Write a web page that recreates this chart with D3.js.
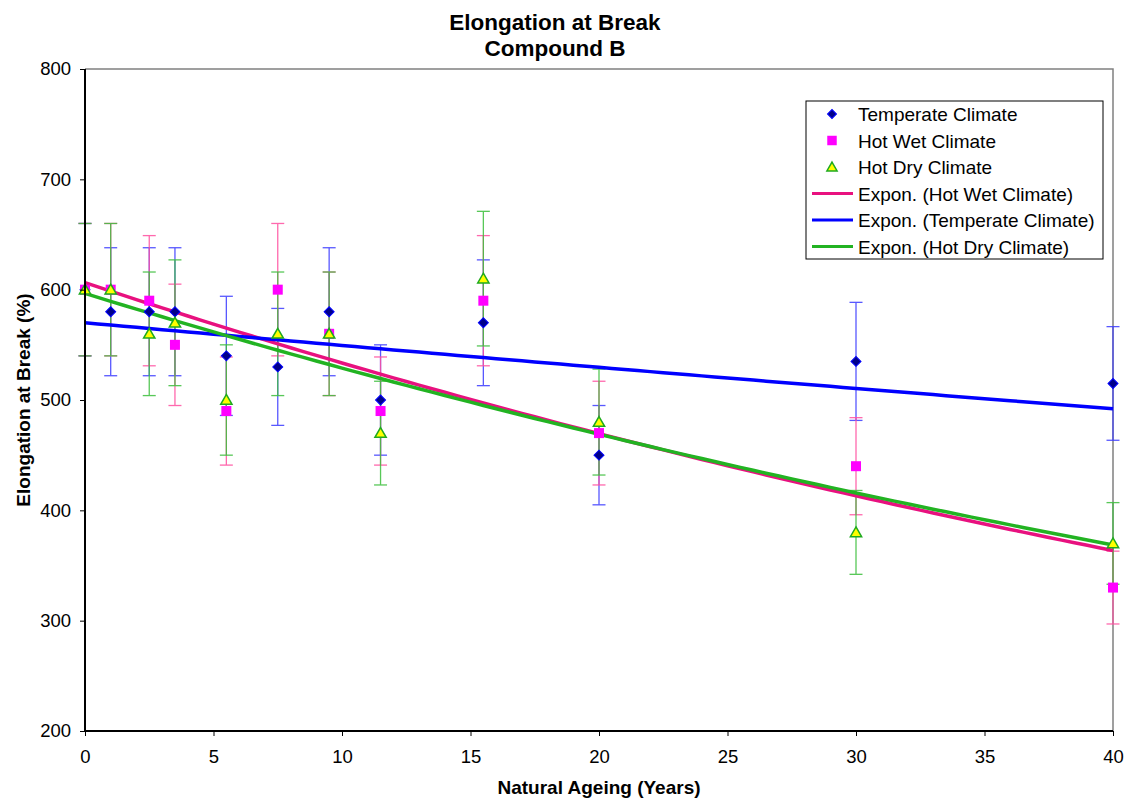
<!DOCTYPE html>
<html>
<head>
<meta charset="utf-8">
<script src="https://cdn.jsdelivr.net/npm/d3@7"></script>
<style>
  body { margin: 0; background: #fff; }
  svg text { font-family: "Liberation Sans", Arial, sans-serif; }
</style>
</head>
<body>
<div id="chart"></div>
<script>
// ageing times (years)
var years = [0, 1, 2.5, 3.5, 5.5, 7.5, 9.5, 11.5, 15.5, 20, 30, 40];

// elongation values
var temperate = [600, 580, 580, 580, 540, 530, 580, 500, 570, 450, 535, 515];
var hotWet    = [600, 600, 590, 550, 490, 600, 560, 490, 590, 470, 440, 330];
var hotDry    = [600, 600, 560, 570, 500, 560, 560, 470, 610, 480, 380, 370];

// error bar half widths
var temperateErr = [60, 58, 58, 58, 54, 53, 58, 50, 57, 45, 53.5, 51.5];
var hotWetErr    = [60, 60, 59, 55, 49, 60, 56, 49, 59, 47, 44, 33];
var hotDryErr    = [60, 60, 56, 57, 50, 56, 56, 47, 61, 48, 38, 37];

var xTicks = [0, 5, 10, 15, 20, 25, 30, 35, 40];
var yTicks = [200, 300, 400, 500, 600, 700, 800];

var width = 1127, height = 800;
var plotLeft = 85, plotRight = 1113, plotTop = 69, plotBottom = 731;

var svg = d3.select("#chart").append("svg")
    .attr("width", width)
    .attr("height", height);

var x = d3.scaleLinear().domain([0, 40]).range([plotLeft, plotRight]);
var y = d3.scaleLinear().domain([200, 800]).range([plotBottom, plotTop]);

// plot frame (grey top/right)
svg.append("path")
    .attr("d", "M" + plotLeft + "," + plotTop + "H" + plotRight + "V" + plotBottom)
    .attr("fill", "none")
    .attr("stroke", "#808080")
    .attr("stroke-width", 1.5);

// exponential trendline, same as excel: fit ln(y) = a + b*x
var expFit = function (xs, ys) {
    var n = xs.length;
    var ly = ys.map(function (v) { return Math.log(v); });
    var mx = d3.mean(xs), my = d3.mean(ly);
    var sxy = 0, sxx = 0;
    for (var i = 0; i < n; i++) {
        sxy += (xs[i] - mx) * (ly[i] - my);
        sxx += (xs[i] - mx) * (xs[i] - mx);
    }
    var b = sxy / sxx, a = my - b * mx;
    return function (t) { return Math.exp(a + b * t); };
};

var series = [
    { name: "Temperate Climate", vals: temperate, err: temperateErr, errColor: "#3b3bff" },
    { name: "Hot Wet Climate", vals: hotWet, err: hotWetErr, errColor: "#ff4fa0" },
    { name: "Hot Dry Climate", vals: hotDry, err: hotDryErr, errColor: "#3cbf3c" }
];

var trends = [
    { name: "Expon. (Hot Wet Climate)", vals: hotWet, color: "#e8117f" },
    { name: "Expon. (Temperate Climate)", vals: temperate, color: "#0000ff" },
    { name: "Expon. (Hot Dry Climate)", vals: hotDry, color: "#22b322" }
];

// error bars
series.forEach(function (s) {
    var g = svg.append("g")
        .attr("stroke", s.errColor)
        .attr("stroke-width", 1.3)
        .attr("opacity", 0.85);
    years.forEach(function (t, i) {
        var hi = s.vals[i] + s.err[i], lo = s.vals[i] - s.err[i];
        g.append("line").attr("x1", x(t)).attr("x2", x(t)).attr("y1", y(hi)).attr("y2", y(lo));
        g.append("line").attr("x1", x(t) - 6.5).attr("x2", x(t) + 6.5).attr("y1", y(hi)).attr("y2", y(hi));
        g.append("line").attr("x1", x(t) - 6.5).attr("x2", x(t) + 6.5).attr("y1", y(lo)).attr("y2", y(lo));
    });
});

// trendlines
var fine = d3.range(0, 40.01, 0.5);
trends.forEach(function (tr) {
    var f = expFit(years, tr.vals);
    var line = d3.line()
        .x(function (t) { return x(t); })
        .y(function (t) { return y(f(t)); });
    svg.append("path")
        .datum(fine)
        .attr("d", line)
        .attr("fill", "none")
        .attr("stroke", tr.color)
        .attr("stroke-width", 3.5);
});

// markers
var diamond = d3.symbol().type(d3.symbolSquare).size(50);
var square = d3.symbol().type(d3.symbolSquare).size(100);
var triangle = d3.symbol().type(d3.symbolTriangle).size(55);

svg.append("g").selectAll("path")
    .data(temperate)
    .enter().append("path")
    .attr("d", diamond)
    .attr("transform", function (d, i) { return "translate(" + x(years[i]) + "," + y(d) + ") rotate(45)"; })
    .attr("fill", "#00008b")
    .attr("stroke", "#0000ff")
    .attr("stroke-width", 1);

svg.append("g").selectAll("path")
    .data(hotWet)
    .enter().append("path")
    .attr("d", square)
    .attr("transform", function (d, i) { return "translate(" + x(years[i]) + "," + y(d) + ")"; })
    .attr("fill", "#ff00ff");

svg.append("g").selectAll("path")
    .data(hotDry)
    .enter().append("path")
    .attr("d", triangle)
    .attr("transform", function (d, i) { return "translate(" + x(years[i]) + "," + (y(d) + 1) + ")"; })
    .attr("fill", "#ffff00")
    .attr("stroke", "#1faa1f")
    .attr("stroke-width", 1.5);

// axes
var xAxis = d3.axisBottom(x).tickValues(xTicks).tickSize(5).tickPadding(14);
var yAxis = d3.axisLeft(y).tickValues(yTicks).tickSize(5).tickPadding(9);

var gx = svg.append("g")
    .attr("transform", "translate(0," + plotBottom + ")")
    .call(xAxis);
var gy = svg.append("g")
    .attr("transform", "translate(" + plotLeft + ",0)")
    .call(yAxis);

[gx, gy].forEach(function (g) {
    g.select(".domain").attr("stroke", "#000").attr("stroke-width", 2);
    g.selectAll(".tick line").attr("stroke", "#000");
    g.selectAll(".tick text")
        .attr("fill", "#000")
        .style("font-size", "18.5px")
        .style("font-family", "'Liberation Sans', Arial, sans-serif");
});
gx.select(".domain").attr("d", "M" + plotLeft + ",0H" + plotRight);
gy.select(".domain").attr("d", "M0," + plotTop + "V" + plotBottom);

// titles
svg.append("text")
    .attr("x", 555).attr("y", 30)
    .attr("text-anchor", "middle")
    .style("font-size", "22.5px").style("font-weight", "bold")
    .text("Elongation at Break");
svg.append("text")
    .attr("x", 555).attr("y", 56)
    .attr("text-anchor", "middle")
    .style("font-size", "22.5px").style("font-weight", "bold")
    .text("Compound B");

svg.append("text")
    .attr("x", (plotLeft + plotRight) / 2).attr("y", 794)
    .attr("text-anchor", "middle")
    .style("font-size", "19px").style("font-weight", "bold")
    .text("Natural Ageing (Years)");

svg.append("text")
    .attr("transform", "translate(30," + (plotTop + plotBottom) / 2 + ") rotate(-90)")
    .attr("text-anchor", "middle")
    .style("font-size", "19px").style("font-weight", "bold")
    .text("Elongation at Break (%)");

// legend
var lg = svg.append("g").attr("transform", "translate(806,101)");
lg.append("rect")
    .attr("width", 297).attr("height", 158)
    .attr("fill", "#fff")
    .attr("stroke", "#000")
    .attr("stroke-width", 1);

var legendItems = [
    { label: series[0].name, kind: "diamond" },
    { label: series[1].name, kind: "square" },
    { label: series[2].name, kind: "triangle" },
    { label: trends[0].name, kind: "line", color: trends[0].color },
    { label: trends[1].name, kind: "line", color: trends[1].color },
    { label: trends[2].name, kind: "line", color: trends[2].color }
];

legendItems.forEach(function (it, i) {
    var cy = 13 + i * 26.5;
    if (it.kind === "line") {
        lg.append("line")
            .attr("x1", 6).attr("x2", 47).attr("y1", cy).attr("y2", cy)
            .attr("stroke", it.color).attr("stroke-width", 3);
    } else if (it.kind === "diamond") {
        lg.append("path").attr("d", d3.symbol().type(d3.symbolSquare).size(40))
            .attr("transform", "translate(26," + cy + ") rotate(45)")
            .attr("fill", "#00008b").attr("stroke", "#0000ff");
    } else if (it.kind === "square") {
        lg.append("path").attr("d", d3.symbol().type(d3.symbolSquare).size(90))
            .attr("transform", "translate(26," + cy + ")")
            .attr("fill", "#ff00ff");
    } else {
        lg.append("path").attr("d", d3.symbol().type(d3.symbolTriangle).size(45))
            .attr("transform", "translate(26," + (cy + 1) + ")")
            .attr("fill", "#ffff00").attr("stroke", "#1faa1f").attr("stroke-width", 1.5);
    }
    lg.append("text")
        .attr("x", 52)
        .attr("y", cy + 7)
        .style("font-size", "19px")
        .text(it.label);
});
</script>
</body>
</html>
